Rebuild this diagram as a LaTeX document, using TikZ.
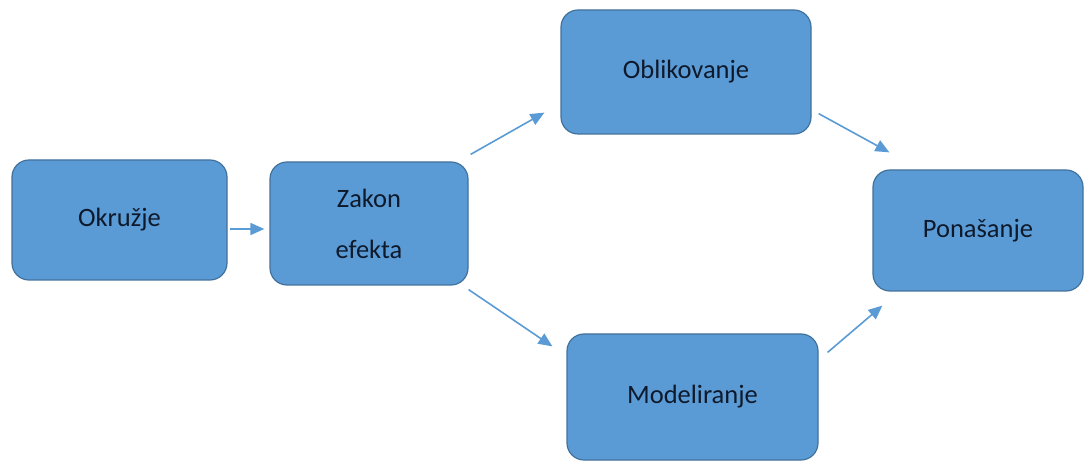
\documentclass[tikz,border=0pt]{standalone}
\usepackage{fontspec}
\setmainfont{Carlito}
\usetikzlibrary{arrows.meta}
\definecolor{boxfill}{HTML}{5B9BD5}
\definecolor{boxline}{HTML}{41719C}
\definecolor{txt}{HTML}{0E1A2B}
\tikzset{
  box/.style={draw=boxline, line width=1.2pt, fill=boxfill, rounded corners=17pt,
    text=txt, font=\fontsize{26.5}{51}\selectfont, align=center, inner sep=0pt},
  arr/.style={draw=boxfill, line width=1.6pt, -{Triangle[length=14pt,width=12pt]}}
}
\begin{document}
\begin{tikzpicture}[x=1pt,y=-1pt]
\useasboundingbox (0,0) rectangle (1085,462);
\node[box, minimum width=215pt, minimum height=120pt] (k) at (119.5,220) {Okružje};
\node[box, minimum width=198pt, minimum height=123pt] (z) at (369,223.5) {Zakon\\efekta};
\node[box, minimum width=250pt, minimum height=124pt] (o) at (686,72) {Oblikovanje};
\node[box, minimum width=251pt, minimum height=126pt] (m) at (692.5,397) {Modeliranje};
\node[box, minimum width=210pt, minimum height=121pt] (p) at (978,230.5) {Ponašanje};
\draw[arr] ([xshift=2pt,yshift=-9pt]k.east) -- ([xshift=-5pt,yshift=-5.5pt]z.west);
\draw[arr] ([xshift=2pt,yshift=7pt]z.north east) -- ([xshift=-16pt,yshift=22pt]o.south west);
\draw[arr] ([yshift=-4pt]z.south east) -- ([xshift=-14pt,yshift=-13pt]m.north west);
\draw[arr] ([xshift=7pt,yshift=21pt]o.south east) -- ([xshift=17pt,yshift=17pt]p.north west);
\draw[arr] ([xshift=9pt,yshift=-19pt]m.north east) -- ([xshift=10pt,yshift=-14pt]p.south west);
\end{tikzpicture}
\end{document}
